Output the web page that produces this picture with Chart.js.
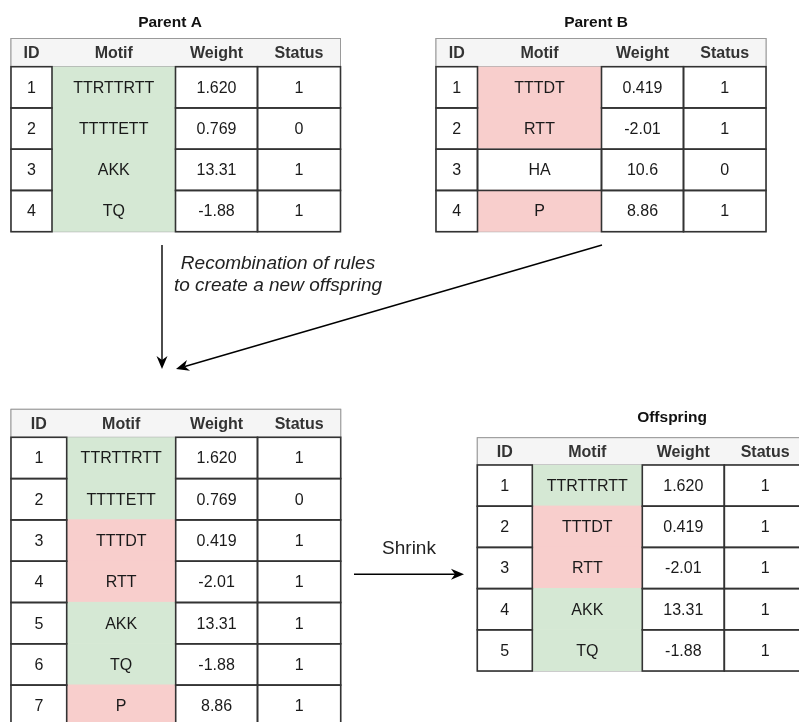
<!DOCTYPE html>
<html>
<head>
<meta charset="utf-8">
<script src="https://cdn.jsdelivr.net/npm/chart.js@4"></script>
<style>
  html, body { margin: 0; padding: 0; background: #fff; }
  #wrap { width: 799px; height: 722px; }
</style>
</head>
<body>
<div id="wrap"><canvas id="chart" width="799" height="722"></canvas></div>
<script>
// columnas de todas las tablas
const columnas = ['ID', 'Motif', 'Weight', 'Status'];

// Parent A
const idsA = [1, 2, 3, 4];
const motifsA = ['TTRTTRTT', 'TTTTETT', 'AKK', 'TQ'];
const pesosA = ['1.620', '0.769', '13.31', '-1.88'];
const estadoA = [1, 0, 1, 1];
const origenA = ['A', 'A', 'A', 'A'];

// Parent B
const idsB = [1, 2, 3, 4];
const motifsB = ['TTTDT', 'RTT', 'HA', 'P'];
const pesosB = ['0.419', '-2.01', '10.6', '8.86'];
const estadoB = [1, 1, 0, 1];
const origenB = ['B', 'B', '', 'B'];

// Recombinacion
const idsR = [1, 2, 3, 4, 5, 6, 7];
const motifsR = ['TTRTTRTT', 'TTTTETT', 'TTTDT', 'RTT', 'AKK', 'TQ', 'P'];
const pesosR = ['1.620', '0.769', '0.419', '-2.01', '13.31', '-1.88', '8.86'];
const estadoR = [1, 0, 1, 1, 1, 1, 1];
const origenR = ['A', 'A', 'B', 'B', 'A', 'A', 'B'];

// Offspring
const idsO = [1, 2, 3, 4, 5];
const motifsO = ['TTRTTRTT', 'TTTDT', 'RTT', 'AKK', 'TQ'];
const pesosO = ['1.620', '0.419', '-2.01', '13.31', '-1.88'];
const estadoO = [1, 1, 1, 1, 1];
const origenO = ['A', 'B', 'B', 'A', 'A'];

const titulos = ['Parent A', 'Parent B', '', 'Offspring'];
const textoFlecha = ['Recombination of rules', 'to create a new offspring'];
const textoShrink = 'Shrink';

const colores = { A: '#d5e8d4', B: '#f8cecc', '': '#ffffff' };
const FUENTE = '"Liberation Sans", Arial, Helvetica, sans-serif';

// disposicion de cada tabla (en unidades de las escalas)
const tablas = [
    { titulo: titulos[0], tx: 170, ty: 23, bordes: [11, 52, 175.5, 257.5, 340.5], top: 38.5, cab: 28.2, fila: 41.25,
      ids: idsA, motifs: motifsA, pesos: pesosA, estado: estadoA, origen: origenA },
    { titulo: titulos[1], tx: 596, ty: 23, bordes: [436, 477.5, 601.5, 683.5, 766], top: 38.5, cab: 28.2, fila: 41.25,
      ids: idsB, motifs: motifsB, pesos: pesosB, estado: estadoB, origen: origenB },
    { titulo: titulos[2], tx: 0, ty: 0, bordes: [11, 66.7, 175.7, 257.5, 340.7], top: 409.3, cab: 28, fila: 41.3,
      ids: idsR, motifs: motifsR, pesos: pesosR, estado: estadoR, origen: origenR },
    { titulo: titulos[3], tx: 672, ty: 418, bordes: [477.3, 532.3, 642.3, 724.3, 806], top: 437.7, cab: 27.3, fila: 41.2,
      ids: idsO, motifs: motifsO, pesos: pesosO, estado: estadoO, origen: origenO }
];

// Dibujar flecha con punta
function flecha(ctx, x1, y1, x2, y2) {
    const dx = x2 - x1, dy = y2 - y1;
    const len = Math.hypot(dx, dy);
    const ux = dx / len, uy = dy / len;
    const nx = -uy, ny = ux;
    const L = 13, W = 5.5;
    ctx.strokeStyle = '#000';
    ctx.lineWidth = 1.4;
    ctx.beginPath();
    ctx.moveTo(x1, y1);
    ctx.lineTo(x2 - ux * L * 0.7, y2 - uy * L * 0.7);
    ctx.stroke();
    ctx.fillStyle = '#000';
    ctx.beginPath();
    ctx.moveTo(x2, y2);
    ctx.lineTo(x2 - ux * L + nx * W, y2 - uy * L + ny * W);
    ctx.lineTo(x2 - ux * L * 0.7, y2 - uy * L * 0.7);
    ctx.lineTo(x2 - ux * L - nx * W, y2 - uy * L - ny * W);
    ctx.closePath();
    ctx.fill();
}

const pluginTablas = {
    id: 'tablas',
    afterDraw(chart) {
        const ctx = chart.ctx;
        const sx = v => chart.scales.x.getPixelForValue(v);
        const sy = v => chart.scales.y.getPixelForValue(v);
        ctx.save();
        ctx.textAlign = 'center';
        ctx.textBaseline = 'middle';

        tablas.forEach(t => {
            const b = t.bordes.map(sx);
            const yTop = sy(t.top);
            const yCab = sy(t.top + t.cab);
            const n = t.ids.length;
            const yFila = i => sy(t.top + t.cab + i * t.fila);

            // titulo
            if (t.titulo) {
                ctx.fillStyle = '#111';
                ctx.font = 'bold 15.5px ' + FUENTE;
                ctx.fillText(t.titulo, sx(t.tx), sy(t.ty));
            }

            // borde exterior gris
            ctx.strokeStyle = '#9a9a9a';
            ctx.lineWidth = 1;
            ctx.strokeRect(b[0], yTop, b[4] - b[0], yFila(n) - yTop);

            // cabecera
            ctx.fillStyle = '#f5f5f5';
            ctx.fillRect(b[0], yTop, b[4] - b[0], yCab - yTop);
            ctx.strokeRect(b[0], yTop, b[4] - b[0], yCab - yTop);
            ctx.fillStyle = '#333';
            ctx.font = 'bold 16px ' + FUENTE;
            columnas.forEach((c, j) => ctx.fillText(c, (b[j] + b[j + 1]) / 2, (yTop + yCab) / 2 + 1));

            // fondos de celdas (con un pequeño solape para evitar costuras)
            for (let i = 0; i < n; i++) {
                for (let j = 0; j < 4; j++) {
                    ctx.fillStyle = j === 1 ? colores[t.origen[i]] : '#ffffff';
                    const y0 = i === 0 ? yFila(i) : yFila(i) - 0.6;
                    ctx.fillRect(b[j], y0, b[j + 1] - b[j], yFila(i + 1) - y0);
                }
            }
            // bordes (las celdas coloreadas no llevan borde)
            ctx.strokeStyle = '#333';
            ctx.lineWidth = 1.6;
            for (let i = 0; i < n; i++) {
                for (let j = 0; j < 4; j++) {
                    if (j === 1 && t.origen[i] !== '') continue;
                    ctx.strokeRect(b[j], yFila(i), b[j + 1] - b[j], yFila(i + 1) - yFila(i));
                }
            }
            // textos
            ctx.fillStyle = '#1a1a1a';
            ctx.font = '16px ' + FUENTE;
            for (let i = 0; i < n; i++) {
                const yc = (yFila(i) + yFila(i + 1)) / 2 + 1;
                const vals = [t.ids[i], t.motifs[i], t.pesos[i], t.estado[i]];
                vals.forEach((v, j) => ctx.fillText(String(v), (b[j] + b[j + 1]) / 2, yc));
            }
        });

        // flechas
        flecha(ctx, sx(162), sy(245), sx(162), sy(369));
        flecha(ctx, sx(602), sy(245), sx(176), sy(369));
        flecha(ctx, sx(354), sy(574.3), sx(464), sy(574.3));

        // textos de las flechas
        ctx.fillStyle = '#222';
        ctx.font = 'italic 19px ' + FUENTE;
        ctx.fillText(textoFlecha[0], sx(278), sy(264));
        ctx.fillText(textoFlecha[1], sx(278), sy(286));
        ctx.font = '19px ' + FUENTE;
        ctx.fillText(textoShrink, sx(409), sy(549));

        ctx.restore();
    }
};

new Chart(document.getElementById('chart'), {
    type: 'scatter',
    data: { datasets: [{ data: [], pointRadius: 0 }] },
    options: {
        responsive: false,
        animation: false,
        devicePixelRatio: 1,
        layout: { padding: 0 },
        plugins: { legend: { display: false }, tooltip: { enabled: false } },
        scales: {
            x: { type: 'linear', min: 0, max: 799, display: false },
            y: { type: 'linear', min: 0, max: 722, reverse: true, display: false }
        }
    },
    plugins: [pluginTablas]
});
</script>
</body>
</html>
